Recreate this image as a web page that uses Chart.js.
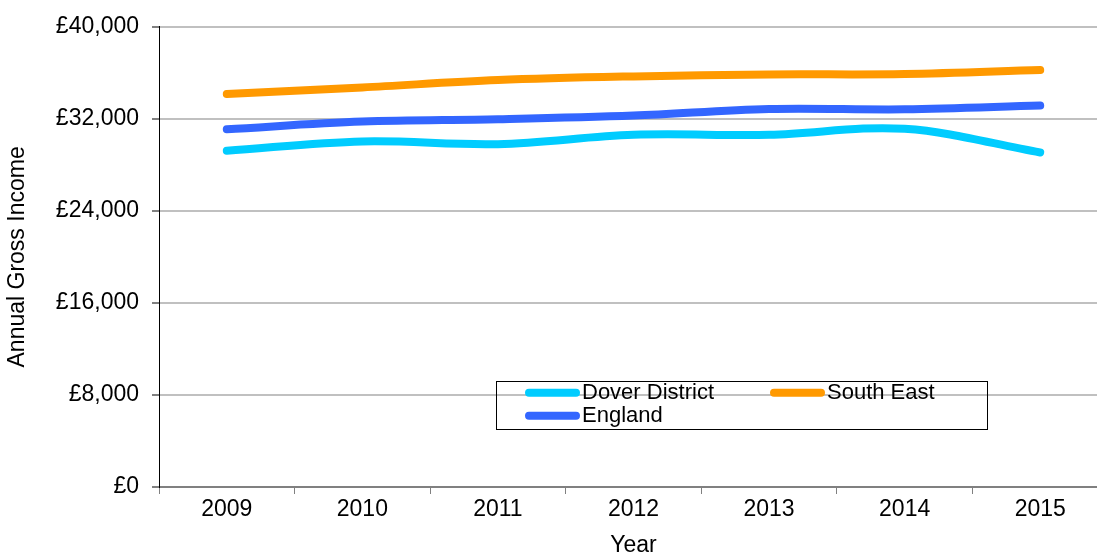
<!DOCTYPE html>
<html>
<head>
<meta charset="utf-8">
<script src="https://cdn.jsdelivr.net/npm/chart.js@4"></script>
<style>
    html, body { margin: 0; padding: 0; background: #fff; overflow: hidden; width: 1097px; height: 552px; }
    #wrap { position: relative; width: 1110px; height: 572px; }
</style>
</head>
<body>
<div id="wrap"><canvas id="income-chart"></canvas></div>
<script>
const years = ["2009", "2010", "2011", "2012", "2013", "2014", "2015"];
const dover = [29230, 30030, 29800, 30610, 30610, 31130, 29080];
const southEast = [34160, 34730, 35370, 35690, 35860, 35890, 36240];
const england = [31100, 31760, 31960, 32280, 32860, 32830, 33150];
const yTicks = [0, 8000, 16000, 24000, 32000, 40000];

const FONT = "'Liberation Sans', Arial, sans-serif";

// legend drawn as a bordered box inside the plot, like the original
const boxLegend = {
    id: "boxLegend",
    afterDraw(chart) {
        const { ctx, chartArea } = chart;
        const left = chartArea.left + 337;
        const top = chartArea.top + 354;
        const w = 491, h = 48;
        ctx.save();
        ctx.strokeStyle = "#000";
        ctx.lineWidth = 1;
        ctx.strokeRect(Math.round(left) + 0.5, Math.round(top) + 0.5, w, h);
        ctx.font = "22px " + FONT;
        ctx.textBaseline = "middle";
        ctx.fillStyle = "#000";
        chart.data.datasets.forEach((ds, i) => {
            const col = i % 2, row = Math.floor(i / 2);
            const x = left + 29 + col * 245;
            const y = top + 12 + row * 23;
            ctx.strokeStyle = ds.borderColor;
            ctx.lineWidth = 8;
            ctx.lineCap = "round";
            ctx.beginPath();
            ctx.moveTo(x + 4, y);
            ctx.lineTo(x + 51, y);
            ctx.stroke();
            ctx.fillText(ds.label, x + 57, y);
        });
        ctx.restore();
    }
};

function line(label, data, color) {
    return {
        label,
        data,
        borderColor: color,
        backgroundColor: color,
        borderWidth: 8,
        borderCapStyle: "round",
        borderJoinStyle: "round",
        pointRadius: 0,
        tension: 0.35,
        fill: false
    };
}

new Chart(document.getElementById("income-chart"), {
    type: "line",
    data: {
        labels: years,
        datasets: [
            line("Dover District", dover, "#00CCFF"),
            line("South East", southEast, "#FF9900"),
            line("England", england, "#3366FF")
        ]
    },
    options: {
        responsive: true,
        maintainAspectRatio: false,
        animation: false,
        layout: { padding: { top: 25, right: 2, bottom: 0, left: 0 } },
        plugins: {
            legend: { display: false },
            tooltip: { enabled: false }
        },
        scales: {
            x: {
                offset: true,
                afterFit: (s) => { s.height = 85; },
                grid: {
                    offset: true,
                    drawOnChartArea: false,
                    tickLength: 7,
                    tickColor: "#808080"
                },
                border: { color: "#808080", width: 1.5 },
                ticks: {
                    color: "#000",
                    padding: 2,
                    maxRotation: 0,
                    font: { family: FONT, size: 23 }
                },
                title: {
                    display: true,
                    text: "Year",
                    color: "#000",
                    padding: { top: 0, bottom: 13 },
                    font: { family: FONT, size: 23 }
                }
            },
            y: {
                min: 0,
                max: 40000,
                afterFit: (s) => { s.width = 159; },
                afterBuildTicks: (s) => { s.ticks = yTicks.map(v => ({ value: v })); },
                grid: {
                    color: (c) => c.tick && c.tick.value === 0 ? "#808080" : "#c0c0c0",
                    lineWidth: 2,
                    tickLength: 7,
                    tickColor: "#808080"
                },
                border: { color: "#000", width: 1 },
                ticks: {
                    color: "#000",
                    padding: 13,
                    font: { family: FONT, size: 23 },
                    callback: (v) => "£" + Number(v).toLocaleString("en-GB")
                },
                title: {
                    display: true,
                    text: "Annual Gross Income",
                    color: "#000",
                    padding: { top: 4, bottom: 0 },
                    font: { family: FONT, size: 23 }
                }
            }
        }
    },
    plugins: [boxLegend]
});
</script>
</body>
</html>
